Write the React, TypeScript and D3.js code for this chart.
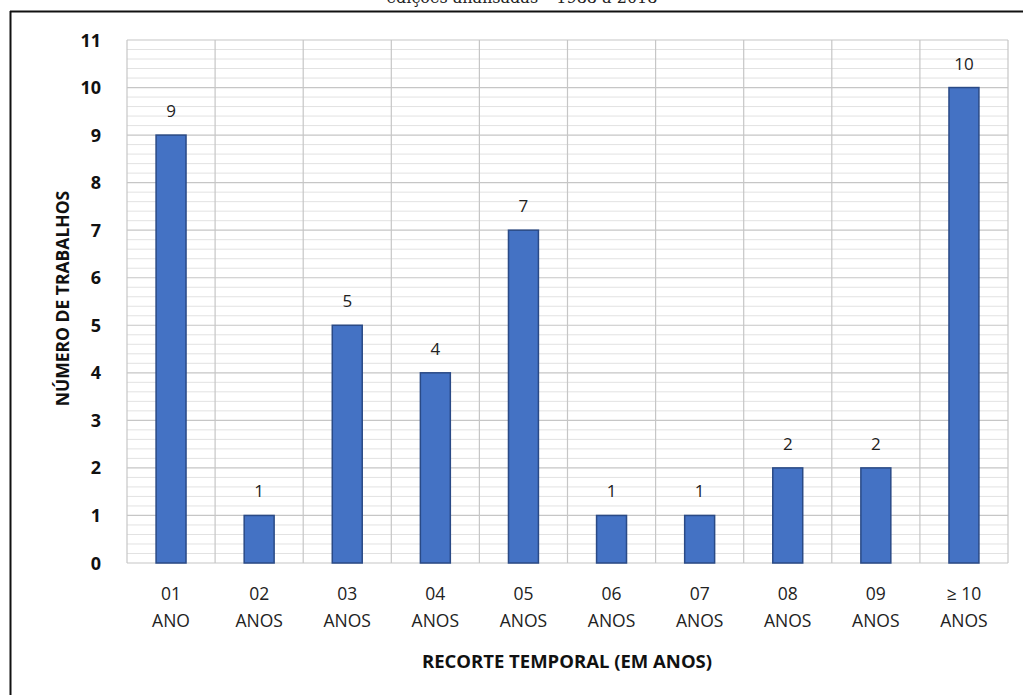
import React from "react";
import * as d3 from "d3";

const categories = ["01|ANO", "02|ANOS", "03|ANOS", "04|ANOS", "05|ANOS", "06|ANOS", "07|ANOS", "08|ANOS", "09|ANOS", "≥ 10|ANOS"];
const counts = [9, 1, 5, 4, 7, 1, 1, 2, 2, 10];
const yTicks = [0, 1, 2, 3, 4, 5, 6, 7, 8, 9, 10, 11];
const yAxisTitle = "NÚMERO DE TRABALHOS";
const xAxisTitle = "RECORTE TEMPORAL  (EM ANOS)";
const captionText = "edições analisadas – 1988 a 2018";

const W = 1023;
const H = 695;
const plot = { left: 127, right: 1008, top: 40, bottom: 563 };
const font = "'Open Sans', 'Liberation Sans', sans-serif";

export default function App() {
  const x = d3
    .scaleBand<string>()
    .domain(categories)
    .range([plot.left, plot.right])
    .paddingInner(0)
    .paddingOuter(0);
  const y = d3.scaleLinear().domain([0, 11]).range([plot.bottom, plot.top]);
  const minorTicks = d3.range(0, 11.001, 0.2).filter((v) => Math.abs(v - Math.round(v)) > 1e-6);
  const barW = x.bandwidth() * 0.34;

  return (
    <svg
      width={W}
      height={H}
      style={{ position: "absolute", left: 0, top: 0, background: "#fff" }}
      fontFamily={font}
    >
      <rect x={0} y={0} width={W} height={H} fill="#fff" />
      {/* caption running off the top edge */}
      <text x={522} y={3} textAnchor="middle" fontFamily="'DejaVu Serif', serif" fontSize={16} fill="#222">
        {captionText}
      </text>
      {/* frame */}
      <line x1={10} x2={W} y1={11.5} y2={11.5} stroke="#111" strokeWidth={2} />
      <line x1={10.5} x2={10.5} y1={11} y2={H} stroke="#111" strokeWidth={2} />

      {/* minor gridlines */}
      {minorTicks.map((v, i) => (
        <line key={"m" + i} x1={plot.left} x2={plot.right} y1={y(v)} y2={y(v)} stroke="#e2e2e2" strokeWidth={1} />
      ))}
      {/* major gridlines */}
      {yTicks.map((v) => (
        <line key={"g" + v} x1={plot.left} x2={plot.right} y1={y(v)} y2={y(v)} stroke="#c6c6c6" strokeWidth={1.2} />
      ))}
      {/* vertical category gridlines */}
      {categories.map((c) => (
        <line key={"v" + c} x1={x(c)!} x2={x(c)!} y1={plot.top} y2={plot.bottom} stroke="#c6c6c6" strokeWidth={1.2} />
      ))}
      <line x1={plot.right} x2={plot.right} y1={plot.top} y2={plot.bottom} stroke="#c6c6c6" strokeWidth={1.2} />

      {/* bars with value labels */}
      {categories.map((c, i) => {
        const cx = x(c)! + x.bandwidth() / 2;
        return (
          <g key={"b" + c}>
            <rect
              x={cx - barW / 2}
              y={y(counts[i])}
              width={barW}
              height={y(0) - y(counts[i])}
              fill="#4472c4"
              stroke="#2a4a86"
              strokeWidth={1.5}
            />
            <text x={cx} y={y(counts[i]) - 18} textAnchor="middle" fontSize={17} fill="#222">
              {counts[i]}
            </text>
          </g>
        );
      })}

      {/* y tick labels */}
      {yTicks.map((v) => (
        <text key={"t" + v} x={101} y={y(v) + 6.5} textAnchor="end" fontSize={18} fontWeight="bold" fill="#111">
          {v}
        </text>
      ))}

      {/* x category labels */}
      {categories.map((c) => {
        const [a, b] = c.split("|");
        const cx = x(c)! + x.bandwidth() / 2;
        return (
          <text key={"x" + c} textAnchor="middle" fontSize={17.5} fill="#222">
            <tspan x={cx} y={599.5}>{a}</tspan>
            <tspan x={cx} y={626.5}>{b}</tspan>
          </text>
        );
      })}

      {/* axis titles */}
      <text x={567} y={668} textAnchor="middle" fontSize={18.5} fontWeight="bold" fill="#111">
        {xAxisTitle}
      </text>
      <text
        transform={`translate(69, ${(plot.top + plot.bottom) / 2 - 3}) rotate(-90)`}
        textAnchor="middle"
        fontSize={17.5}
        fontWeight="bold"
        fill="#111"
      >
        {yAxisTitle}
      </text>
    </svg>
  );
}
